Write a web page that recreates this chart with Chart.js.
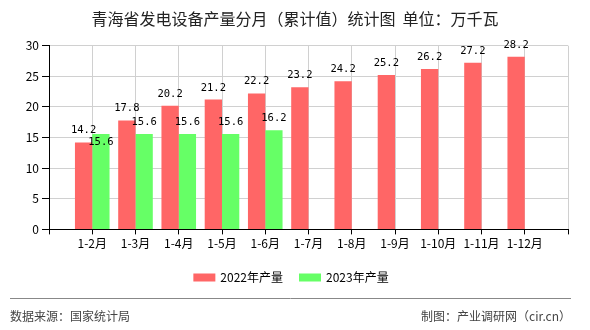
<!DOCTYPE html>
<html>
<head>
<meta charset="utf-8">
<script src="https://cdn.jsdelivr.net/npm/chart.js@4/dist/chart.umd.min.js"></script>
<style>
  html, body { margin: 0; padding: 0; background: #fff; }
  #wrap { width: 590px; height: 330px; position: relative; }
</style>
</head>
<body>
<div id="wrap"><canvas id="c" width="590" height="330"></canvas></div>
<script>
// Monthly cumulative output of power generation equipment, Qinghai (unit: 10k kW)
const months = ['1-2月', '1-3月', '1-4月', '1-5月', '1-6月', '1-7月', '1-8月', '1-9月', '1-10月', '1-11月', '1-12月'];
const output2022 = [14.2, 17.8, 20.2, 21.2, 22.2, 23.2, 24.2, 25.2, 26.2, 27.2, 28.2];
const output2023 = [15.6, 15.6, 15.6, 15.6, 16.2];
const seriesNames = ['2022年产量', '2023年产量'];
const seriesColors = ['#ff6666', '#66ff66'];
const yTicks = [0, 5, 10, 15, 20, 25, 30];

const titleText = '青海省发电设备产量分月（累计值）统计图  单位：万千瓦';
const sourceText = '数据来源：国家统计局';
const creditText = '制图：产业调研网（cir.cn）';

const CJK = '"Noto Sans CJK SC", "Noto Sans", sans-serif';

// one empty slot on each side of the months keeps a full category of space at both ends
const padded = arr => [null, ...arr, ...new Array(months.length + 1 - arr.length).fill(null)];
const xLabels = ['', ...months, ''];

// value labels above each bar; a label that would collide with one already drawn is pushed below it
const valueLabels = {
  id: 'valueLabels',
  afterDatasetsDraw(chart) {
    const ctx = chart.ctx;
    ctx.save();
    ctx.font = '10.5px "DejaVu Sans Mono", monospace';
    ctx.fillStyle = '#000';
    ctx.textAlign = 'center';
    ctx.textBaseline = 'alphabetic';
    const placed = [];
    const pad = 2, glyphH = 8, gap = 9;
    const n = chart.data.labels.length;
    for (let i = 0; i < n; i++) {
      chart.data.datasets.forEach((ds, di) => {
        const v = ds.data[i];
        if (v == null) return;
        const bar = chart.getDatasetMeta(di).data[i];
        const text = v.toFixed(1);
        const w = ctx.measureText(text).width;
        let base = bar.y - gap;
        const box = { l: bar.x - w / 2 - pad, r: bar.x + w / 2 + pad, t: base - glyphH - pad, b: base + pad };
        for (const o of placed) {
          if (box.l < o.r && box.r > o.l && box.t < o.b && box.b > o.t) {
            const shift = o.b - box.t;
            base += shift; box.t += shift; box.b += shift;
          }
        }
        placed.push(box);
        ctx.fillText(text, bar.x, base);
      });
    }
    ctx.restore();
  }
};

// title, legend, separator and footer
const frameText = {
  id: 'frameText',
  afterDraw(chart) {
    const ctx = chart.ctx;
    ctx.save();
    // title
    ctx.fillStyle = '#222';
    ctx.font = '16px ' + CJK;
    ctx.textAlign = 'center';
    ctx.textBaseline = 'middle';
    ctx.fillText(titleText, 295, 19);

    // legend
    ctx.font = '12px ' + CJK;
    ctx.textAlign = 'left';
    const boxW = 22, boxH = 8, boxGap = 5, itemGap = 16;
    const items = chart.data.datasets.map(ds => ({
      label: ds.label, color: ds.backgroundColor, w: boxW + boxGap + ctx.measureText(ds.label).width
    }));
    const total = items.reduce((s, it) => s + it.w, 0) + itemGap * (items.length - 1);
    let x = 291 - total / 2;
    const ly = 277.5;
    items.forEach(it => {
      ctx.fillStyle = it.color;
      ctx.fillRect(x, ly - boxH / 2, boxW, boxH);
      ctx.fillStyle = '#000';
      ctx.fillText(it.label, x + boxW + boxGap, ly);
      x += it.w + itemGap;
    });

    // separator
    ctx.strokeStyle = '#888';
    ctx.lineWidth = 1;
    ctx.beginPath();
    ctx.moveTo(10, 298.5);
    ctx.lineTo(571, 298.5);
    ctx.stroke();

    // footer
    ctx.fillStyle = '#444';
    ctx.font = '12px ' + CJK;
    ctx.textAlign = 'left';
    ctx.fillText(sourceText, 10, 316);
    ctx.textAlign = 'right';
    ctx.fillText(creditText, 571, 316);
    ctx.restore();
  }
};

new Chart(document.getElementById('c'), {
  type: 'bar',
  data: {
    labels: xLabels,
    datasets: [
      { label: seriesNames[0], data: padded(output2022), backgroundColor: seriesColors[0] },
      { label: seriesNames[1], data: padded(output2023), backgroundColor: seriesColors[1] }
    ]
  },
  options: {
    responsive: false,
    animation: false,
    devicePixelRatio: 1,
    datasets: { bar: { categoryPercentage: 0.8, barPercentage: 1.0, borderWidth: 0 } },
    layout: { padding: { left: 0, right: 22, top: 45.7, bottom: 330 - 229.4 - 30 } },
    plugins: { legend: { display: false }, tooltip: { enabled: false }, title: { display: false } },
    scales: {
      x: {
        type: 'category',
        offset: false,
        grid: { offset: false, color: '#d0d0d0', tickColor: '#000', tickLength: 5, lineWidth: 1 },
        border: { color: '#000', width: 1 },
        ticks: { color: '#000', font: { family: CJK, size: 12 }, padding: 2, autoSkip: false, maxRotation: 0 },
        afterFit: s => { s.height = 30; }
      },
      y: {
        min: yTicks[0],
        max: yTicks[yTicks.length - 1],
        afterBuildTicks: s => { s.ticks = yTicks.map(v => ({ value: v })); },
        grid: { color: '#d0d0d0', tickColor: '#000', tickLength: 7, lineWidth: 1 },
        border: { color: '#000', width: 1 },
        ticks: { color: '#000', font: { family: CJK, size: 12 }, padding: 3 },
        afterFit: s => { s.width = 49; }
      }
    }
  },
  plugins: [valueLabels, frameText]
});
</script>
</body>
</html>
